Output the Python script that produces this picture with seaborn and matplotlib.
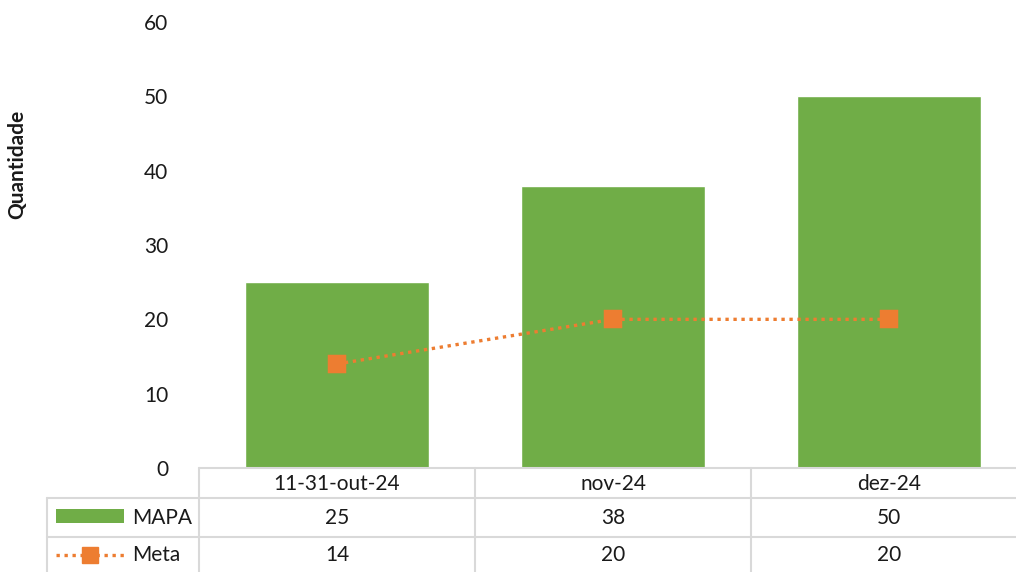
import numpy as np
import pandas as pd
import seaborn as sns
import matplotlib
import matplotlib.pyplot as plt
from matplotlib.lines import Line2D
from matplotlib.patches import Rectangle

matplotlib.use('Agg')

# Data
categories = ['11-31-out-24', 'nov-24', 'dez-24']
mapa = [25, 38, 50]
meta = [14, 20, 20]
series_names = ['MAPA', 'Meta']

GREEN = '#70AD47'
ORANGE = '#ED7D31'
GRID = '#D9D9D9'
TEXT = '#1A1A1A'
FS = 15

sns.set_theme(style='white')
plt.rcParams['font.family'] = ['Lato', 'DejaVu Sans']

W, H = 1016, 572
fig = plt.figure(figsize=(W / 100, H / 100), dpi=100)

# plot area in pixels: x 199..1027 (runs past the right edge), y 22..468
ax = fig.add_axes([199 / W, 1 - 468 / H, 828 / W, 446 / H])

df = pd.DataFrame({'cat': categories, 'MAPA': mapa, 'Meta': meta})
sns.barplot(data=df, x='cat', y='MAPA', color=GREEN, saturation=1, width=0.67, ax=ax)
sns.pointplot(data=df, x='cat', y='Meta', color=ORANGE, marker='s', markersize=12,
              linestyle=(0, (1, 1.4)), linewidth=2.4, errorbar=None, ax=ax)

ax.set_xlim(-0.5, len(categories) - 0.5)
ax.set_ylim(0, 60)
ax.set_yticks(range(0, 61, 10))
ax.tick_params(axis='y', length=0, pad=22, labelsize=FS, labelcolor=TEXT)
ax.set_xticks([])
ax.set_xlabel('')
ax.set_ylabel('')
for s in ax.spines.values():
    s.set_visible(False)

fig.text(17 / W, 1 - 164 / H, 'Quantidade', rotation=90, ha='center', va='center',
         fontsize=15, fontweight='bold', color=TEXT)


# Data table drawn below the plot, in pixel coordinates
def fx(x):
    return x / W


def fy(y):
    return 1 - y / H


def hline(x0, x1, y):
    fig.add_artist(Line2D([fx(x0), fx(x1)], [fy(y), fy(y)], color=GRID, lw=1.5))


def vline(x, y0, y1):
    fig.add_artist(Line2D([fx(x), fx(x)], [fy(y0), fy(y1)], color=GRID, lw=1.5))


col_edges = [199, 475, 751, 1027]
row_edges = [468, 498, 537, 572]
left_x = 47

hline(199, 1027, row_edges[0])
hline(left_x, 1027, row_edges[1])
hline(left_x, 1027, row_edges[2])
vline(left_x, row_edges[1], 572)
for x in col_edges[:-1]:
    vline(x, row_edges[0], 572)

for i, cat in enumerate(categories):
    cx = (col_edges[i] + col_edges[i + 1]) / 2
    fig.text(fx(cx), fy(484), cat, ha='center', va='center', fontsize=FS, color=TEXT)
    fig.text(fx(cx), fy(518), str(mapa[i]), ha='center', va='center', fontsize=FS, color=TEXT)
    fig.text(fx(cx), fy(555), str(meta[i]), ha='center', va='center', fontsize=FS, color=TEXT)

# legend keys in row labels
fig.add_artist(Rectangle((fx(56), fy(523)), fx(124) - fx(56), fy(509) - fy(523),
                         color=GREEN, lw=0))
fig.add_artist(Line2D([fx(56), fx(124)], [fy(555), fy(555)], color=ORANGE, lw=2.4,
                      linestyle=(0, (1, 1.4))))
fig.add_artist(Line2D([fx(90)], [fy(555)], color=ORANGE, marker='s', markersize=12, lw=0))
fig.text(fx(132), fy(518), series_names[0], ha='left', va='center', fontsize=FS, color=TEXT)
fig.text(fx(132), fy(555), series_names[1], ha='left', va='center', fontsize=FS, color=TEXT)

fig.savefig('out.png', dpi=100)
